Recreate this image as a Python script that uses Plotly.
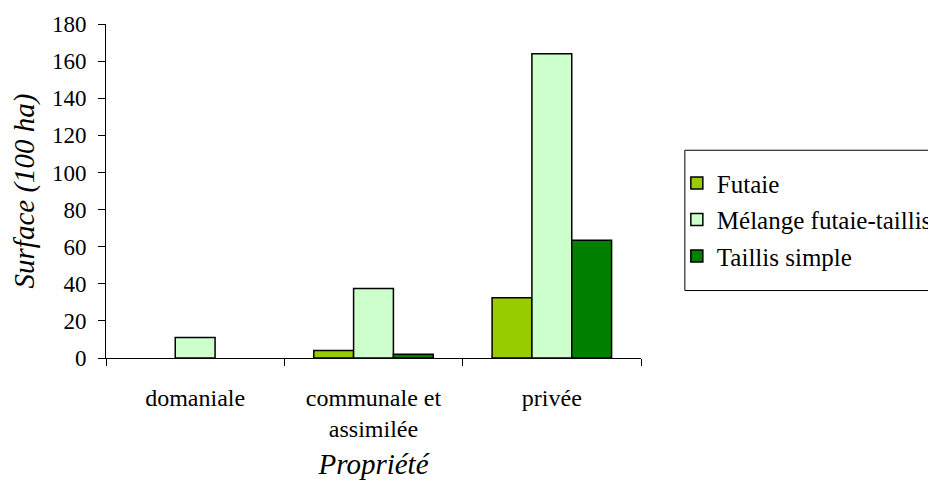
import plotly.graph_objects as go

# Surface by ownership type (units: 100 ha)
categories = ["domaniale", "communale et<br>assimilée", "privée"]
futaie = [None, 4, 32.5]
melange = [11, 37.5, 164]
taillis = [None, 2, 63.5]

series_names = ["Futaie", "Mélange futaie-taillis", "Taillis simple"]
series_colors = ["#99CC00", "#CCFFCC", "#008000"]

FONT = "Liberation Serif"

fig = go.Figure()
for name, vals, col in zip(series_names, [futaie, melange, taillis], series_colors):
    fig.add_trace(go.Bar(
        x=categories, y=vals, name=name, legendgroup=name,
        marker=dict(color=col, line=dict(color="black", width=1.5)),
    ))

# legend frame: left, top and bottom only, it runs off the right edge
fig.add_shape(type="path", xref="paper", yref="paper",
              path="M 2.0,0.622 L 1.082,0.622 L 1.082,0.202 L 2.0,0.202",
              line=dict(color="black", width=1), layer="below")

# page body has an 8px margin, so the figure is 928 wide and shifted back by 8px
fig.update_layout(
    width=928, height=480,
    barmode="group", bargap=0.33, bargroupgap=0,
    plot_bgcolor="white", paper_bgcolor="white",
    font=dict(family=FONT, size=24, color="black"),
    margin=dict(l=98, r=295, t=16, b=130, autoexpand=False),
    showlegend=True,
    legend=dict(
        x=1.067, xanchor="left", y=0.592, yanchor="top",
        borderwidth=0, bgcolor="rgba(0,0,0,0)",
        tracegroupgap=1, font=dict(size=25),
    ),
    xaxis=dict(
        title=dict(text="<i>Propriété</i>", standoff=12),
        showline=True, linecolor="black", linewidth=1,
        ticks="outside", ticklen=7, tickcolor="black",
        tickson="boundaries", showgrid=False,
        tickfont=dict(size=24), ticklabelstandoff=18,
    ),
    yaxis=dict(
        title=dict(text="<i>Surface (100 ha)</i>", standoff=17),
        range=[0, 180], dtick=20,
        showline=True, linecolor="black", linewidth=1,
        ticks="outside", ticklen=7, tickcolor="black",
        showgrid=False, zeroline=False,
        tickfont=dict(size=23), ticklabelstandoff=7,
    ),
)

fig.write_html("out.html")
